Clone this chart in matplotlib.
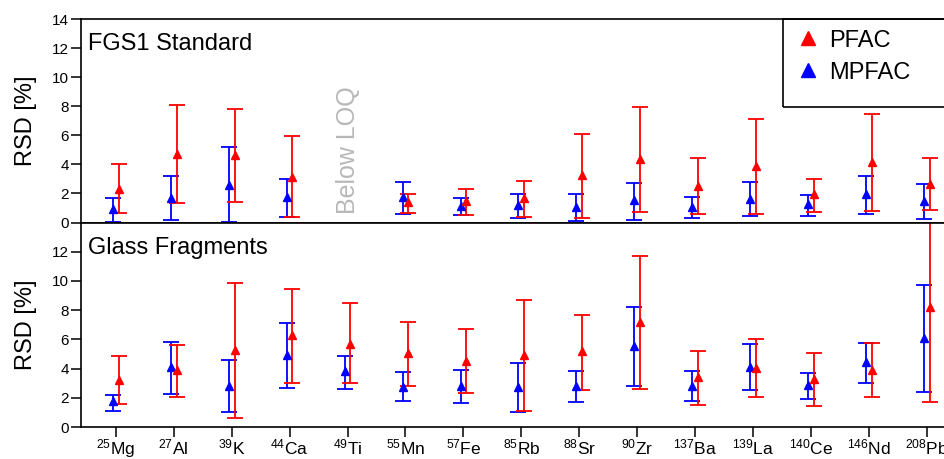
import numpy as np
import matplotlib
matplotlib.use("Agg")
import matplotlib.pyplot as plt
from matplotlib.lines import Line2D
from matplotlib.patches import Rectangle

plt.rcParams["font.family"] = ["Liberation Sans", "DejaVu Sans"]
plt.rcParams["mathtext.fontset"] = "custom"
plt.rcParams["mathtext.rm"] = "Liberation Sans"
plt.rcParams["mathtext.it"] = "Liberation Sans:italic"

# isotopes on the x axis
masses = [25, 27, 39, 44, 49, 55, 57, 85, 88, 90, 137, 139, 140, 146, 208]
elements = ["Mg", "Al", "K", "Ca", "Ti", "Mn", "Fe", "Rb", "Sr", "Zr",
            "Ba", "La", "Ce", "Nd", "Pb"]
nan = np.nan

# FGS1 standard: RSD [%] (mean, lower, upper)
std_pfac = [2.34, 4.72, 4.63, 3.16, nan, 1.40, 1.51, 1.70, 3.25, 4.38, 2.54, 3.92, 1.95, 4.19, 2.66]
std_pfac_lo = [0.64, 1.31, 1.42, 0.37, nan, 0.64, 0.55, 0.39, 0.32, 0.69, 0.57, 0.62, 0.73, 0.82, 0.85]
std_pfac_hi = [4.01, 8.07, 7.79, 5.98, nan, 1.97, 2.29, 2.86, 6.07, 7.97, 4.42, 7.13, 3.00, 7.47, 4.42]
std_mpfac = [0.92, 1.72, 2.59, 1.74, nan, 1.79, 1.17, 1.19, 1.08, 1.54, 1.10, 1.65, 1.24, 1.97, 1.49]
std_mpfac_lo = [0.07, 0.18, 0.02, 0.39, nan, 0.62, 0.53, 0.32, 0.09, 0.18, 0.30, 0.48, 0.48, 0.62, 0.21]
std_mpfac_hi = [1.72, 3.23, 5.18, 3.00, nan, 2.80, 1.70, 1.95, 1.99, 2.73, 1.79, 2.77, 1.88, 3.23, 2.68]

# glass fragments: RSD [%] (mean, lower, upper)
gl_pfac = [3.22, 3.89, 5.30, 6.29, 5.71, 5.05, 4.55, 4.94, 5.17, 7.22, 3.40, 4.07, 3.27, 3.93, 8.21]
gl_pfac_lo = [1.60, 2.03, 0.64, 3.04, 2.99, 2.83, 2.35, 1.10, 2.56, 2.63, 1.51, 2.03, 1.46, 2.06, 1.74]
gl_pfac_hi = [4.89, 5.62, 9.85, 9.46, 8.48, 7.18, 6.72, 8.69, 7.70, 11.73, 5.23, 6.03, 5.07, 5.78, 15.0]
gl_mpfac = [1.76, 4.09, 2.83, 4.91, 3.84, 2.77, 2.81, 2.77, 2.79, 5.55, 2.83, 4.14, 2.86, 4.43, 6.08]
gl_mpfac_lo = [1.12, 2.29, 1.05, 2.67, 2.63, 1.78, 1.67, 1.05, 1.69, 2.83, 1.78, 2.56, 1.92, 3.00, 2.40]
gl_mpfac_hi = [2.17, 5.81, 4.59, 7.09, 4.89, 3.77, 3.93, 4.41, 3.84, 8.23, 3.84, 5.65, 3.73, 5.78, 9.74]

RED = "#ff0000"
BLUE = "#0000ff"
x = np.arange(len(elements))
labels = [rf"$^{{{m}}}$" + el for m, el in zip(masses, elements)]


def draw_series(ax, offset, mean, lo, hi, color):
    mean = np.asarray(mean)
    err = [mean - np.asarray(lo), np.asarray(hi) - mean]
    ax.errorbar(x + offset, mean, yerr=err, fmt="^", color=color, ms=5.5,
                elinewidth=1.3, capsize=6, capthick=1.3, mec=color)


def style_axes(ax, title):
    ax.set_xlim(-0.6, 14.6)
    ax.set_ylim(0, 14)
    ax.set_ylabel("RSD [%]", fontsize=17)
    ax.yaxis.set_label_coords(-0.050, 0.5)
    ax.text(0.008, 0.93, title, transform=ax.transAxes, fontsize=17,
            va="top", ha="left")
    for sp in ax.spines.values():
        sp.set_linewidth(1.2)
    ax.tick_params(axis="y", direction="out", length=7.5, width=1.1,
                   labelsize=11, pad=1)


fig = plt.figure(figsize=(9.45, 4.59), dpi=100)
ax1 = fig.add_axes([0.0857, 0.5152, 0.932, 0.4434])
ax2 = fig.add_axes([0.0857, 0.0697, 0.932, 0.4455])

# upper panel
draw_series(ax1, -0.05, std_mpfac, std_mpfac_lo, std_mpfac_hi, BLUE)
draw_series(ax1, 0.05, std_pfac, std_pfac_lo, std_pfac_hi, RED)
style_axes(ax1, "FGS1 Standard")
ax1.set_yticks(np.arange(0, 15, 2))
ax1.set_xticks(x)
ax1.tick_params(axis="x", bottom=False, labelbottom=False)
ax1.text(4, 5.0, "Below LOQ", rotation=90, color="#b8b8b8", fontsize=18,
         ha="center", va="center")

# legend box runs past the right edge of the figure
ax1.add_patch(Rectangle((0.797, 0.5676), 0.3, 0.4324, transform=ax1.transAxes,
                        fill=False, edgecolor="black", lw=1.2, clip_on=False,
                        zorder=5))
handles = [Line2D([], [], ls="none", marker="^", color=RED, ms=10),
           Line2D([], [], ls="none", marker="^", color=BLUE, ms=10)]
ax1.legend(handles, ["PFAC", "MPFAC"], loc="upper left",
           bbox_to_anchor=(0.797, 1.0), fontsize=17, frameon=False,
           handletextpad=0.3, borderpad=0.45, labelspacing=0.42,
           handlelength=1.2, borderaxespad=0)

# lower panel
draw_series(ax2, -0.05, gl_mpfac, gl_mpfac_lo, gl_mpfac_hi, BLUE)
draw_series(ax2, 0.05, gl_pfac, gl_pfac_lo, gl_pfac_hi, RED)
style_axes(ax2, "Glass Fragments")
ax2.set_yticks(np.arange(0, 13, 2))
ax2.set_xticks(x)
ax2.set_xticklabels(labels, fontsize=12.5)
ax2.tick_params(axis="x", direction="out", length=7, width=1.1, pad=0.5)

fig.savefig("out.png", dpi=100)
